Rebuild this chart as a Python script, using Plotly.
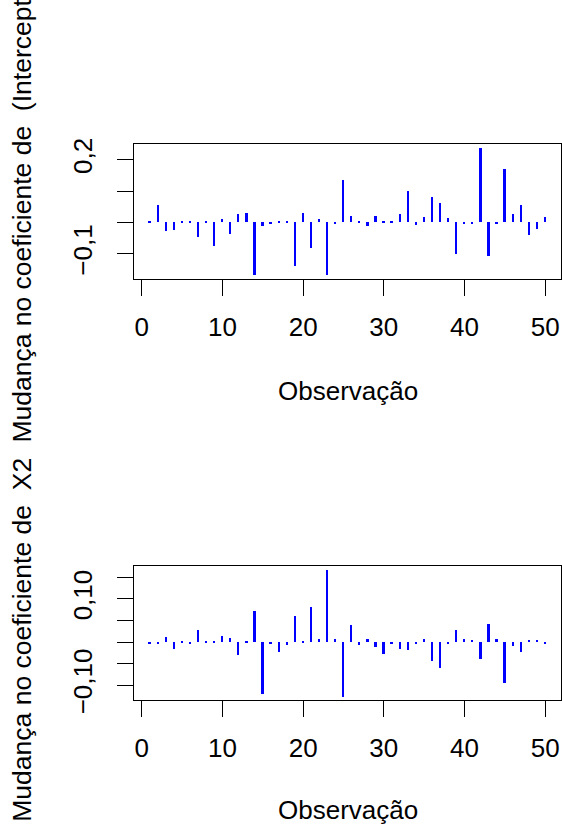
import plotly.graph_objects as go

# ---- data ----
obs = list(range(1, 51))
dfb_intercept = [0.003, 0.054, -0.030, -0.025, 0.003, 0.003, -0.047, 0.002, -0.075, 0.011,
                 -0.038, 0.026, 0.030, -0.168, -0.011, -0.005, 0.003, 0.003, -0.141, 0.030,
                 -0.083, 0.011, -0.170, -0.004, 0.133, 0.020, 0.002, -0.013, 0.018, 0.004,
                 0.002, 0.026, 0.098, -0.008, 0.015, 0.081, 0.062, 0.012, -0.101, -0.004,
                 -0.006, 0.236, -0.108, -0.004, 0.169, 0.025, 0.054, -0.041, -0.021, 0.015]
dfb_x2 = [-0.002, -0.003, 0.012, -0.014, 0.0045, -0.003, 0.0285, 0.002, 0.003, 0.015,
          0.010, -0.029, 0.0045, 0.073, -0.119, -0.002, -0.022, -0.005, 0.062, 0.002,
          0.081, 0.0075, 0.168, 0.0075, -0.125, 0.040, -0.005, 0.008, -0.010, -0.027,
          -0.004, -0.014, -0.018, -0.003, 0.008, -0.043, -0.059, -0.003, 0.028, 0.007,
          0.005, -0.0375, 0.043, 0.009, -0.094, -0.007, -0.0225, 0.006, 0.006, -0.004]

x_ticks = [0, 10, 20, 30, 40, 50]
x_ticktext = ["0", "10", "20", "30", "40", "50"]
y1_ticks = [-0.1, 0.0, 0.1, 0.2]
y1_ticktext = ["\u22120,1", "", "", "0,2"]
y2_ticks = [-0.10, -0.05, 0.0, 0.05, 0.10, 0.15]
y2_ticktext = ["\u22120,10", "", "", "", "0,10", ""]

x_title = "Observação"
y1_title = "Mudança no coeficiente de \u00a0(Intercept)"
y2_title = "Mudança no coeficiente de \u00a0X2"

W, H = 562, 838
FONT = "Liberation Sans, Arial, sans-serif"
FS = 26

def px_x(p):
    return p / W

def px_y(p):
    return 1 - p / H

# panel boxes in pixels
x_left, x_right = 134, 561
top1, bot1 = 141, 279.3
top2, bot2 = 573, 711.3

fig = go.Figure()
fig.add_trace(go.Bar(x=obs, y=dfb_intercept, width=0.22, marker=dict(color="#0000FF", line=dict(width=0)),
                     xaxis="x", yaxis="y", showlegend=False))
fig.add_trace(go.Bar(x=obs, y=dfb_x2, width=0.22, marker=dict(color="#0000FF", line=dict(width=0)),
                     xaxis="x2", yaxis="y2", showlegend=False))

common_x = dict(range=[-0.96, 51.96], tickvals=x_ticks, ticktext=x_ticktext, ticks="outside",
                ticklen=16, tickwidth=1, tickcolor="black", showline=True, linecolor="black",
                linewidth=1, mirror=True, showgrid=False, zeroline=False,
                tickfont=dict(family=FONT, size=FS, color="black"), ticklabelstandoff=8,
                domain=[px_x(x_left), px_x(x_right)])
common_y = dict(ticks="outside", ticklen=16, tickwidth=1, tickcolor="black", showline=True,
                linecolor="black", linewidth=1, mirror=True, showgrid=False, zeroline=False,
                tickangle=-90, tickfont=dict(family=FONT, size=FS, color="black"),
                ticklabelstandoff=15)

fig.update_layout(
    width=W, height=H, margin=dict(l=0, r=0, t=0, b=0),
    paper_bgcolor="white", plot_bgcolor="white", bargap=0,
    xaxis=dict(anchor="y", **common_x),
    xaxis2=dict(anchor="y2", **common_x),
    yaxis=dict(anchor="x", domain=[px_y(bot1), px_y(top1)], range=[-0.181, 0.249],
               tickvals=y1_ticks, ticktext=y1_ticktext, **common_y),
    yaxis2=dict(anchor="x2", domain=[px_y(bot2), px_y(top2)], range=[-0.135, 0.177],
                tickvals=y2_ticks, ticktext=y2_ticktext, **common_y),
)

cx = px_x((x_left + x_right) / 2)
ann_font = dict(family=FONT, size=FS, color="black")
yt_font = dict(family=FONT, size=26.5, color="black")
fig.add_annotation(text=x_title, x=cx, y=px_y(394), xref="paper", yref="paper",
                   xanchor="center", yanchor="middle", showarrow=False, font=ann_font)
fig.add_annotation(text=x_title, x=cx, y=px_y(824), xref="paper", yref="paper",
                   xanchor="center", yanchor="middle", showarrow=False, font=ann_font)
fig.add_annotation(text=y1_title, x=px_x(22), y=px_y(215), xref="paper", yref="paper",
                   xanchor="center", yanchor="middle", showarrow=False, textangle=-90, font=yt_font)
fig.add_annotation(text=y2_title, x=px_x(22), y=px_y(649), xref="paper", yref="paper",
                   xanchor="center", yanchor="middle", showarrow=False, textangle=-90, font=yt_font)

fig.write_html("out.html", config={"displayModeBar": False},
               post_script="document.body.style.margin='0';document.body.style.padding='0';document.documentElement.style.overflow='hidden';")
